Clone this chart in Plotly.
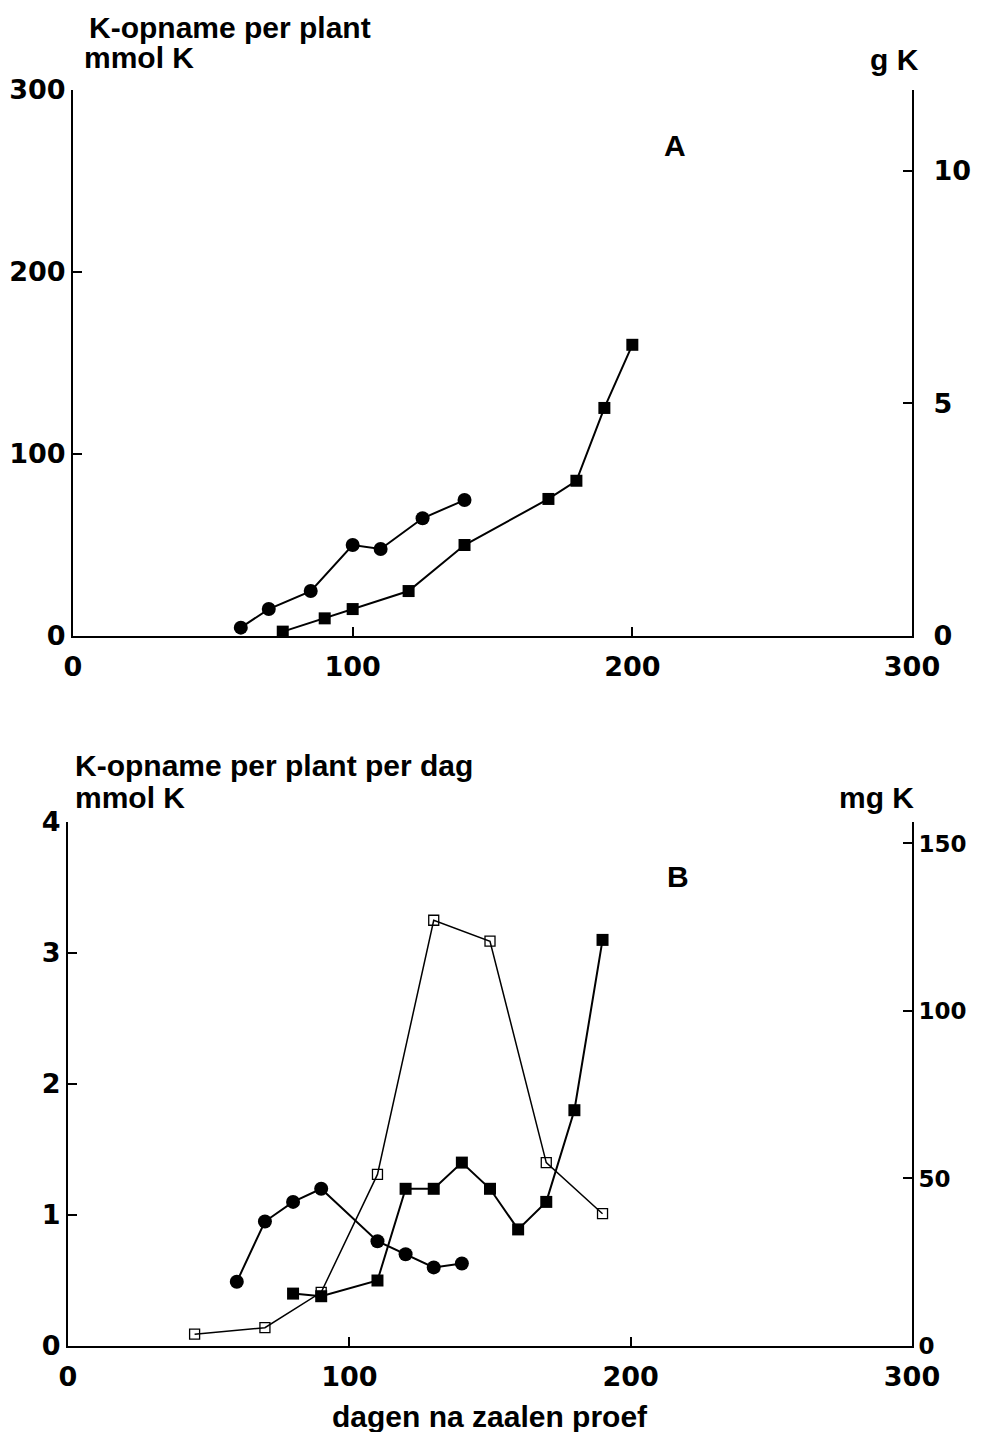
import plotly.graph_objects as go

W, H = 989, 1432
OFF = 8  # page body margin offset

# Panel A: cumulative K uptake per plant (mmol K)
a_circ_days = [60, 70, 85, 100, 110, 125, 140]
a_circ_vals = [4.6, 14.8, 24.7, 50, 47.8, 64.7, 74.7]
a_sq_days = [75, 90, 100, 120, 140, 170, 180, 190, 200]
a_sq_vals = [2.4, 9.7, 14.8, 24.7, 50, 75.3, 85.3, 125.3, 160]

# Panel B: K uptake per plant per day (mmol K)
b_circ_days = [60, 70, 80, 90, 110, 120, 130, 140]
b_circ_vals = [0.49, 0.95, 1.10, 1.20, 0.80, 0.70, 0.60, 0.63]
b_sq_days = [80, 90, 110, 120, 130, 140, 150, 160, 170, 180, 190]
b_sq_vals = [0.40, 0.38, 0.50, 1.20, 1.20, 1.40, 1.20, 0.89, 1.10, 1.80, 3.10]
b_open_days = [45, 70, 90, 110, 130, 150, 170, 190]
b_open_vals = [0.09, 0.14, 0.41, 1.31, 3.25, 3.09, 1.40, 1.01]

x_ticks = [0, 100, 200, 300]
a_left_ticks = [0, 100, 200, 300]
a_right_ticks = [0, 5, 10]
b_left_ticks = [0, 1, 2, 3, 4]
b_right_ticks = [0, 50, 100, 150]

K_MOLAR = 39.1  # g/mol

def px(x):
    return (x - OFF) / W

def py(y):
    return 1 - (y - OFF) / H

BLACK = "black"
tickfont = dict(family="DejaVu Sans", size=27, color=BLACK, weight="bold")
tickfont_small = dict(family="DejaVu Sans", size=23, color=BLACK, weight="bold")
txtfont = dict(family="Liberation Sans", size=30, color=BLACK, weight="bold")

fig = go.Figure()

line_w = 2
fig.add_trace(go.Scatter(x=a_circ_days, y=a_circ_vals, mode="lines+markers",
                         line=dict(color=BLACK, width=line_w),
                         marker=dict(symbol="circle", size=14, color=BLACK),
                         xaxis="x", yaxis="y", showlegend=False))
fig.add_trace(go.Scatter(x=a_sq_days, y=a_sq_vals, mode="lines+markers",
                         line=dict(color=BLACK, width=line_w),
                         marker=dict(symbol="square", size=12, color=BLACK),
                         xaxis="x", yaxis="y", showlegend=False))
fig.add_trace(go.Scatter(x=[], y=[], xaxis="x", yaxis="y2", showlegend=False))

fig.add_trace(go.Scatter(x=b_open_days, y=b_open_vals, mode="lines+markers",
                         line=dict(color=BLACK, width=1.5),
                         marker=dict(symbol="square-open", size=10, color=BLACK,
                                     line=dict(width=1.3)),
                         xaxis="x2", yaxis="y3", showlegend=False))
fig.add_trace(go.Scatter(x=b_circ_days, y=b_circ_vals, mode="lines+markers",
                         line=dict(color=BLACK, width=line_w),
                         marker=dict(symbol="circle", size=14, color=BLACK),
                         xaxis="x2", yaxis="y3", showlegend=False))
fig.add_trace(go.Scatter(x=b_sq_days, y=b_sq_vals, mode="lines+markers",
                         line=dict(color=BLACK, width=line_w),
                         marker=dict(symbol="square", size=12, color=BLACK),
                         xaxis="x2", yaxis="y3", showlegend=False))
fig.add_trace(go.Scatter(x=[], y=[], xaxis="x2", yaxis="y4", showlegend=False))

common = dict(showgrid=False, zeroline=False, showline=True, linecolor=BLACK,
              linewidth=2, ticks="inside", tickcolor=BLACK, tickwidth=2,
              ticklen=9, automargin=False)

a_x_dom = [px(73), px(912)]
a_y_dom = [py(636), py(90)]
b_x_dom = [px(68), px(912)]
b_y_dom = [py(1346), py(822)]

fig.update_layout(
    width=W, height=H, autosize=False,
    margin=dict(l=0, r=0, t=0, b=0, pad=0, autoexpand=False),
    paper_bgcolor="white", plot_bgcolor="white",
    xaxis=dict(domain=a_x_dom, range=[0, 300], tickvals=x_ticks, anchor="y",
               tickfont=tickfont, ticklabelstandoff=6, **common),
    yaxis=dict(domain=a_y_dom, range=[0, 300], tickvals=a_left_ticks, anchor="x",
               tickfont=tickfont, **common),
    yaxis2=dict(range=[0, 300 * K_MOLAR / 1000], tickvals=a_right_ticks, overlaying="y",
                side="right", anchor="x", tickfont=tickfont, ticklabelstandoff=14, **common),
    xaxis2=dict(domain=b_x_dom, range=[0, 300], tickvals=x_ticks, anchor="y3",
                tickfont=tickfont, ticklabelstandoff=6, **common),
    yaxis3=dict(domain=b_y_dom, range=[0, 4], tickvals=b_left_ticks, anchor="x2",
                tickfont=tickfont, **common),
    yaxis4=dict(range=[0, 4 * K_MOLAR], tickvals=b_right_ticks, overlaying="y3",
                side="right", anchor="x2", tickfont=tickfont_small, **common),
)

annots = [
    ("K-opname per plant", 87, 27, "left"),
    ("mmol K", 82, 58, "left"),
    ("g K", 921, 60, "right"),
    ("A", 675, 146, "center"),
    ("K-opname per plant per dag", 73, 765, "left"),
    ("mmol K", 73, 797, "left"),
    ("mg K", 916, 797, "right"),
    ("B", 678, 877, "center"),
    ("dagen na zaalen proef", 490, 1416, "center"),
]
for text, x, y, anchor in annots:
    fig.add_annotation(text=text, x=px(x), y=py(y), xref="paper", yref="paper",
                       xanchor=anchor, yanchor="middle", showarrow=False, font=txtfont)

fig.write_html("out.html")
